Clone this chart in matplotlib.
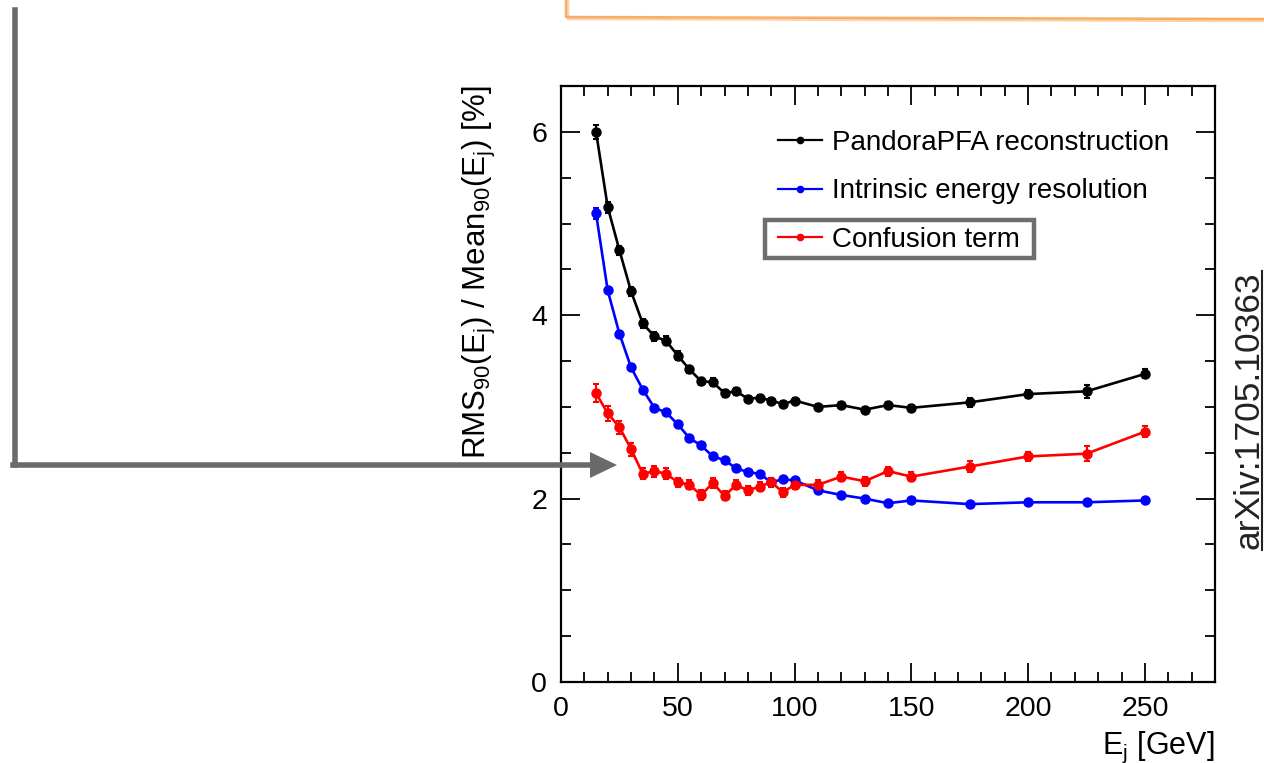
import numpy as np
import matplotlib
matplotlib.use('Agg')
import matplotlib.pyplot as plt
from matplotlib.lines import Line2D
from matplotlib.patches import Rectangle

plt.rcParams['font.family'] = ['Liberation Sans', 'DejaVu Sans']
plt.rcParams['mathtext.fontset'] = 'custom'
plt.rcParams['mathtext.rm'] = 'Liberation Sans'
plt.rcParams['mathtext.it'] = 'Liberation Sans'

# jet energies [GeV]
energy = [15, 20, 25, 30, 35, 40, 45, 50, 55, 60, 65, 70, 75, 80, 85, 90, 95,
          100, 110, 120, 130, 140, 150, 175, 200, 225, 250]

# RMS90/Mean90 [%]
pandora = [6.00, 5.18, 4.71, 4.26, 3.91, 3.77, 3.72, 3.56, 3.41, 3.28, 3.27,
           3.15, 3.17, 3.09, 3.10, 3.07, 3.03, 3.07, 3.00, 3.02, 2.97, 3.02,
           2.99, 3.05, 3.14, 3.17, 3.36]
pandora_err = [0.08, 0.06, 0.05, 0.05, 0.05, 0.05, 0.05, 0.05, 0.04, 0.04, 0.04,
               0.04, 0.04, 0.03, 0.03, 0.03, 0.03, 0.03, 0.03, 0.03, 0.03, 0.03,
               0.03, 0.05, 0.04, 0.07, 0.05]

intrinsic = [5.11, 4.27, 3.80, 3.43, 3.19, 2.99, 2.94, 2.81, 2.66, 2.58, 2.46,
             2.42, 2.33, 2.29, 2.27, 2.18, 2.21, 2.20, 2.09, 2.04, 2.00, 1.95,
             1.98, 1.94, 1.96, 1.96, 1.98]
intrinsic_err = [0.06, 0.03, 0.03, 0.02, 0.02, 0.02, 0.02, 0.02, 0.02, 0.02, 0.02,
                 0.02, 0.02, 0.02, 0.02, 0.02, 0.02, 0.02, 0.02, 0.02, 0.02, 0.02,
                 0.02, 0.02, 0.02, 0.02, 0.02]

confusion = [3.15, 2.93, 2.78, 2.54, 2.27, 2.30, 2.27, 2.18, 2.15, 2.04, 2.17,
             2.03, 2.15, 2.09, 2.13, 2.18, 2.07, 2.15, 2.15, 2.24, 2.19, 2.30,
             2.24, 2.35, 2.46, 2.49, 2.73]
confusion_err = [0.10, 0.08, 0.07, 0.07, 0.06, 0.06, 0.06, 0.05, 0.05, 0.05, 0.05,
                 0.05, 0.05, 0.05, 0.05, 0.05, 0.05, 0.05, 0.05, 0.05, 0.05, 0.05,
                 0.05, 0.06, 0.05, 0.08, 0.06]

labels = ['PandoraPFA reconstruction', 'Intrinsic energy resolution', 'Confusion term']

W, H = 1264, 763
fig = plt.figure(figsize=(W / 100, H / 100), dpi=100)
ax = fig.add_axes([561 / W, 1 - 682 / H, (1215 - 561) / W, (682 - 86) / H])

series = [(pandora, pandora_err, 'black'),
          (intrinsic, intrinsic_err, 'blue'),
          (confusion, confusion_err, 'red')]
handles = []
for (vals, errs, col), lab in zip(series, labels):
    ax.errorbar(energy, vals, yerr=errs, color=col, lw=1.9, marker='o', ms=6.5,
                elinewidth=1.5, capsize=2.5, capthick=1.5)
    handles.append(Line2D([], [], color=col, lw=1.6, marker='o', ms=4.5))

ax.set_xlim(0, 280)
ax.set_ylim(0, 6.5)
ax.set_xticks(np.arange(0, 251, 50))
ax.set_xticks(np.arange(0, 281, 10), minor=True)
ax.set_yticks([0, 2, 4, 6])
ax.set_yticks(np.arange(0, 6.51, 0.5), minor=True)
ax.tick_params(which='both', direction='in', top=True, right=True,
               width=1.3, labelsize=20.5, colors='black')
ax.tick_params(which='major', length=14, pad=10)
ax.tick_params(which='minor', length=7)
for s in ax.spines.values():
    s.set_linewidth(1.6)

ax.set_ylabel(r'RMS$_{90}$(E$_{\mathrm{j}}$) / Mean$_{90}$(E$_{\mathrm{j}}$) [%]',
              fontsize=22.5, loc='top', labelpad=24)
ax.set_xlabel(r'E$_{\mathrm{j}}$ [GeV]', fontsize=22, loc='right', labelpad=6)

ax.legend(handles, labels, loc='upper left', frameon=False, fontsize=20,
          bbox_to_anchor=((778 - 561) / 654, 1 - (130 - 86) / 596),
          handlelength=1.6, handletextpad=0.36, labelspacing=0.81,
          borderaxespad=0, borderpad=0)

# grey highlight box around the confusion-term entry
fig.add_artist(Rectangle((765 / W, 1 - 258 / H), (1034 - 765) / W, (258 - 220) / H,
                         transform=fig.transFigure, fill=False,
                         edgecolor='#6e6e6e', lw=3.2))

# grey arrow from the left edge
fig.add_artist(Line2D([15 / W, 15 / W], [1 - 10 / H, 1 - 465 / H],
                      transform=fig.transFigure, color='#6a6a6a', lw=4))
fig.add_artist(Line2D([13 / W, 592 / W], [1 - 465 / H, 1 - 465 / H],
                      transform=fig.transFigure, color='#6a6a6a', lw=4))
fig.add_artist(plt.Polygon([[590 / W, 1 - 452 / H], [617 / W, 1 - 465 / H],
                            [590 / W, 1 - 478 / H]], closed=True,
                           transform=fig.transFigure, color='#6a6a6a', lw=0))

# orange sketch box at the top
for dx, dy, a in [(0, 0, 0.85), (2, 2, 0.45)]:
    fig.add_artist(Line2D([(566 + dx) / W, (566 + dx) / W, 1.0],
                          [1.0, 1 - (17 + dy) / H, 1 - (19 + dy) / H],
                          transform=fig.transFigure, color='#f7a14f', lw=1.8, alpha=a))

# arXiv reference, underlined
fig.text(1249 / W, 1 - 410 / H, 'arXiv:1705.10363', rotation=90, fontsize=25.5,
         ha='center', va='center', color='#222222')
fig.add_artist(Line2D([1262 / W, 1262 / W], [1 - 271 / H, 1 - 550 / H],
                      transform=fig.transFigure, color='#222222', lw=1.5))

fig.savefig('out.png', dpi=100)
